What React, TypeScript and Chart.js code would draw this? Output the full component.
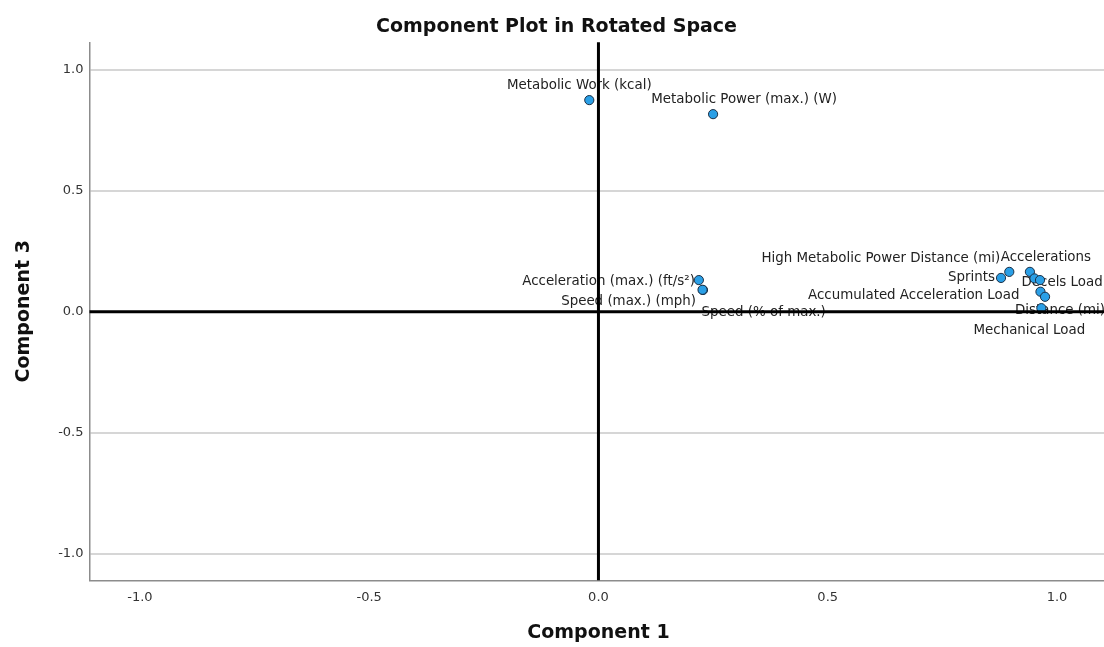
import React, { useEffect, useRef } from "react";
import { Chart, registerables } from "chart.js";

Chart.register(...registerables);

// Variable names (point labels)
const variableNames = [
  "Metabolic Work (kcal)",
  "Metabolic Power (max.) (W)",
  "Acceleration (max.) (ft/s\u00B2)",
  "Speed (max.) (mph)",
  "Speed (% of max.)",
  "Sprints",
  "High Metabolic Power Distance (mi)",
  "Accelerations",
  "Decels Load",
  "",
  "Accumulated Acceleration Load",
  "Distance (mi)",
  "Mechanical Load",
];

// Component 1 loadings (x)
const component1 = [-0.02, 0.25, 0.219, 0.228, 0.227, 0.878, 0.896, 0.941, 0.951, 0.963, 0.964, 0.974, 0.966];
// Component 3 loadings (y)
const component3 = [0.875, 0.817, 0.131, 0.09, 0.091, 0.14, 0.165, 0.165, 0.138, 0.131, 0.083, 0.062, 0.015];

const xTicks = [-1.0, -0.5, 0.0, 0.5, 1.0];
const yTicks = [-1.0, -0.5, 0.0, 0.5, 1.0];

// Label placement relative to each point (style, not data)
const labelPlacement: { align: CanvasTextAlign; dx: number; dy: number }[] = [
  { align: "center", dx: -10, dy: -15 },
  { align: "center", dx: 31, dy: -15 },
  { align: "right", dx: -4, dy: 1 },
  { align: "right", dx: -7, dy: 12 },
  { align: "left", dx: -1, dy: 23 },
  { align: "right", dx: -6, dy: 0 },
  { align: "right", dx: -9, dy: -13 },
  { align: "center", dx: 16, dy: -14 },
  { align: "left", dx: -13, dy: 4 },
  { align: "left", dx: 0, dy: 0 },
  { align: "right", dx: -21, dy: 4 },
  { align: "left", dx: -30, dy: 14 },
  { align: "center", dx: -12, dy: 22 },
];

const FONT = '"DejaVu Sans", "Liberation Sans", sans-serif';

const labelPlugin = {
  id: "pointLabelsAndRefLines",
  beforeDatasetsDraw(chart: any) {
    const ctx = chart.ctx as CanvasRenderingContext2D;
    const meta = chart.getDatasetMeta(0);
    ctx.save();
    ctx.font = `13.4px ${FONT}`;
    ctx.fillStyle = "#222";
    ctx.textBaseline = "middle";
    meta.data.forEach((el: any, i: number) => {
      const p = labelPlacement[i];
      const t = variableNames[i];
      if (!t) return;
      ctx.textAlign = p.align;
      ctx.fillText(t, el.x + p.dx, el.y + p.dy);
    });
    ctx.restore();
  },
  afterDatasetsDraw(chart: any) {
    const ctx = chart.ctx as CanvasRenderingContext2D;
    const { left, right, top, bottom } = chart.chartArea;
    const x0 = chart.scales.x.getPixelForValue(0);
    const y0 = chart.scales.y.getPixelForValue(0);
    ctx.save();
    ctx.strokeStyle = "#000";
    ctx.lineWidth = 3;
    ctx.beginPath();
    ctx.moveTo(x0, top);
    ctx.lineTo(x0, bottom);
    ctx.moveTo(left, y0);
    ctx.lineTo(right, y0);
    ctx.stroke();
    ctx.restore();
  },
};

export default function App() {
  const canvasRef = useRef<HTMLCanvasElement | null>(null);

  useEffect(() => {
    if (!canvasRef.current) return;
    const points = component1.map((x, i) => ({ x, y: component3[i] }));
    const chart = new Chart(canvasRef.current, {
      type: "scatter",
      data: {
        datasets: [
          {
            data: points,
            backgroundColor: "#2a9fe6",
            borderColor: "#1b2f45",
            borderWidth: 1,
            pointRadius: 4.6,
            pointHoverRadius: 4.6,
          },
        ],
      },
      options: {
        responsive: true,
        maintainAspectRatio: false,
        animation: false,
        layout: { padding: 0 },
        plugins: {
          legend: { display: false },
          tooltip: { enabled: false },
          title: {
            display: true,
            text: "Component Plot in Rotated Space",
            color: "#111",
            font: { family: FONT, size: 19, weight: "bold" },
            padding: { top: 15.9, bottom: 3.6 },
          },
        },
        scales: {
          x: {
            type: "linear",
            min: -1.11,
            max: 1.11,
            afterBuildTicks: (scale: any) => {
              scale.ticks = xTicks.map((v) => ({ value: v }));
            },
            afterFit: (scale: any) => {
              scale.height = 66.7;
            },
            grid: { display: false, drawTicks: false },
            border: { display: true, color: "#8c8c8c", width: 1.5 },
            ticks: {
              color: "#333",
              font: { family: FONT, size: 13 },
              padding: 10,
              callback: (v: any) => Number(v).toFixed(1),
            },
            title: {
              display: true,
              text: "Component 1",
              color: "#111",
              font: { family: FONT, size: 19, weight: "bold" },
              padding: { top: 0, bottom: 2.6 },
            },
          },
          y: {
            type: "linear",
            min: -1.11,
            max: 1.114,
            afterBuildTicks: (scale: any) => {
              scale.ticks = yTicks.map((v) => ({ value: v }));
            },
            afterFit: (scale: any) => {
              scale.width = 89.5;
            },
            grid: { display: true, drawTicks: false, color: "#d6d6d6", lineWidth: 2 },
            border: { display: true, color: "#8c8c8c", width: 1.5 },
            ticks: {
              color: "#333",
              font: { family: FONT, size: 13 },
              padding: 6,
              callback: (v: any) => Number(v).toFixed(1),
            },
            title: {
              display: true,
              text: "Component 3",
              color: "#111",
              font: { family: FONT, size: 19, weight: "bold" },
              padding: { top: 13, bottom: 0 },
            },
          },
        },
      },
      plugins: [labelPlugin],
    });
    return () => chart.destroy();
  }, []);

  return (
    <div style={{ position: "absolute", left: 0, top: 0, width: 1104, height: 647, overflow: "hidden", background: "#fff" }}>
      <div style={{ position: "relative", width: 1113, height: 647 }}>
        <canvas ref={canvasRef} />
      </div>
    </div>
  );
}
